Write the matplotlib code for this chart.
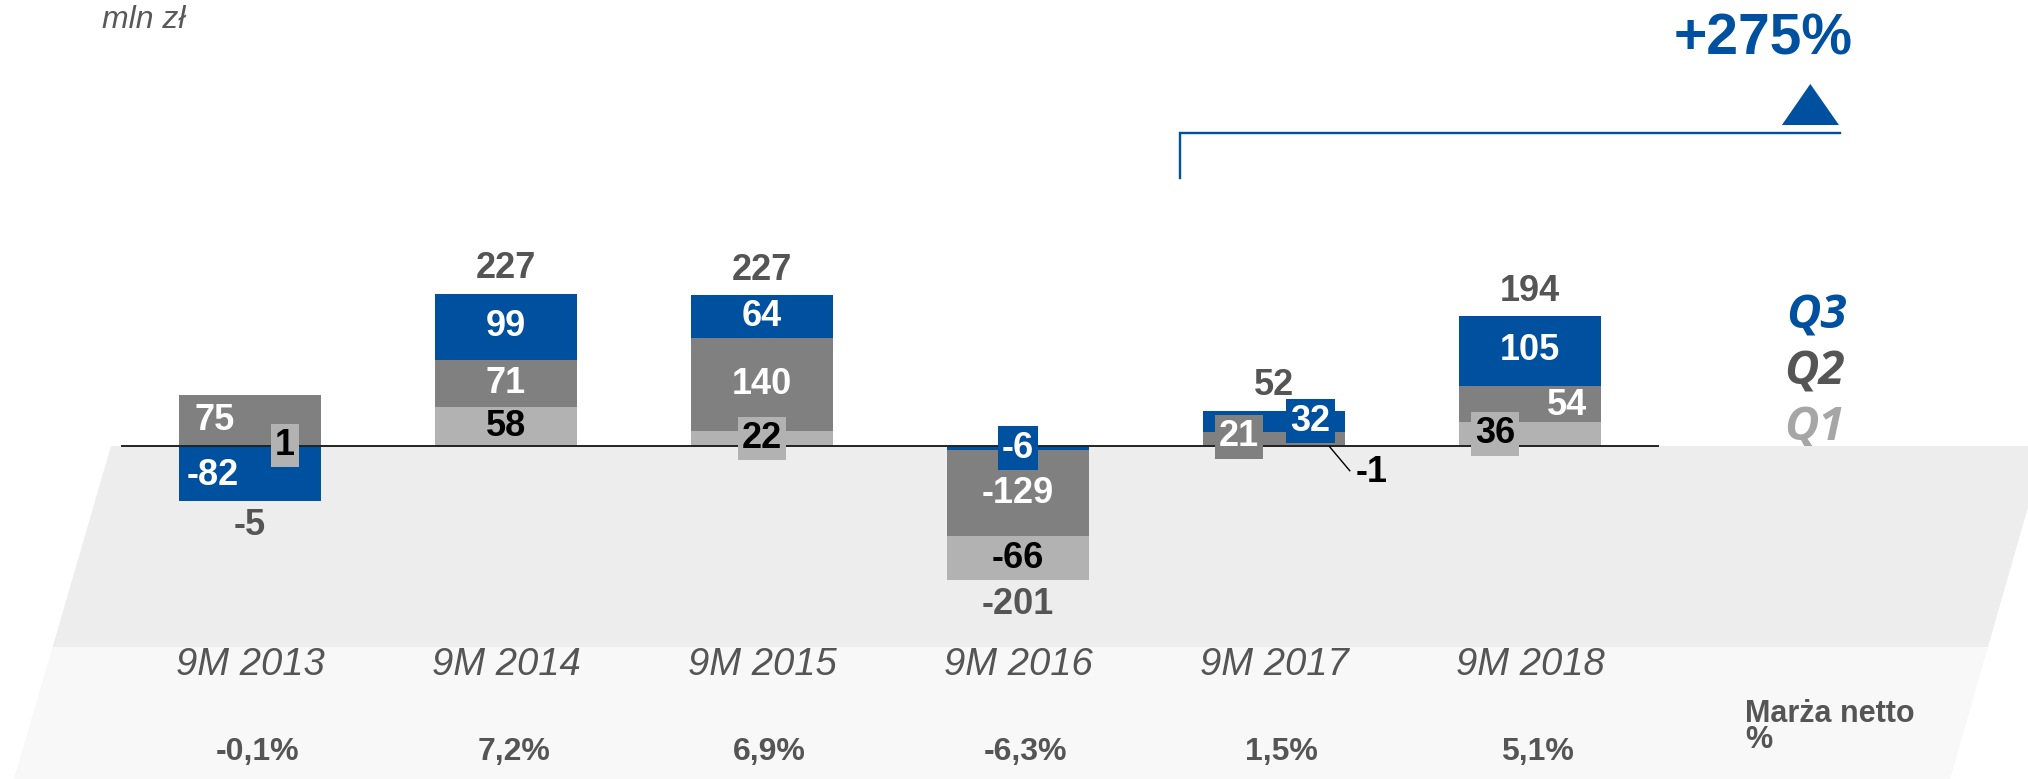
"""
Net profit by quarter (9M 2013 - 9M 2018), stacked Q1/Q2/Q3 bars
"""
import matplotlib
matplotlib.use('Agg')
import matplotlib.pyplot as plt

# --- data -----------------------------------------------------------------
years = ['9M 2013', '9M 2014', '9M 2015', '9M 2016', '9M 2017', '9M 2018']
q1 = [1, 58, 22, -66, -1, 36]
q2 = [75, 71, 140, -129, 21, 54]
q3 = [-82, 99, 64, -6, 32, 105]
totals = [-5, 227, 227, -201, 52, 194]
margins = ['-0,1%', '7,2%', '6,9%', '-6,3%', '1,5%', '5,1%']
growth_label = '+275%'

# --- style ----------------------------------------------------------------
BLUE = '#0050A0'
DARK = '#808080'
LIGHT = '#B2B2B2'
TXT = '#555555'
FONT = 'Liberation Sans'
colors = {'q1': LIGHT, 'q2': DARK, 'q3': BLUE}
text_colors = {'q1': 'black', 'q2': 'white', 'q3': 'white'}

# labels that sit in a small box or are nudged sideways
boxed = {(0, 'q1'), (2, 'q1'), (3, 'q3'), (4, 'q2'), (4, 'q3'), (5, 'q1')}
nudge = {(0, 'q2'): (-0.137, 0), (0, 'q1'): (0.137, 0), (0, 'q3'): (-0.145, -3),
         (4, 'q2'): (-0.137, 3), (4, 'q3'): (0.143, 0),
         (5, 'q2'): (0.144, -3), (5, 'q1'): (-0.137, 0)}

bar_w = 0.555
plt.rcParams['font.family'] = FONT

fig = plt.figure(figsize=(20.28, 7.79), dpi=100)
ax = fig.add_axes([0, 0, 1, 1])
ax.set_xlim(-250 / 256, (2028 - 250) / 256)
ax.set_ylim(-333 / 0.668, 446 / 0.668)
ax.axis('off')

# background bands (perspective floor)
ax.fill([-0.543, 6.95, 6.95, 6.789, -0.771], [0, 0, -85.3, -300.9, -300.9],
        color='#EDEDED', zorder=1, lw=0)
ax.fill([-0.771, 6.789, 6.641, -0.922], [-300.9, -300.9, -498.5, -498.5],
        color='#F8F8F8', zorder=1, lw=0)

# stacked bars: positives build up Q1->Q3, negatives build down Q3->Q1
series = {'q1': q1, 'q2': q2, 'q3': q3}
mids = {'q1': {}, 'q2': {}, 'q3': {}}
for i in range(len(years)):
    pos, neg = 0, 0
    for key in ['q1', 'q2', 'q3']:
        v = series[key][i]
        if v >= 0:
            ax.bar(i, v, bar_w, bottom=pos, color=colors[key], zorder=2, lw=0)
            mids[key][i] = pos + v / 2
            pos += v
    for key in ['q3', 'q2', 'q1']:
        v = series[key][i]
        if v < 0:
            ax.bar(i, v, bar_w, bottom=neg, color=colors[key], zorder=2, lw=0)
            mids[key][i] = neg + v / 2
            neg += v

    # segment labels
    for key in ['q1', 'q2', 'q3']:
        v = series[key][i]
        if (i, key) == (4, 'q1'):
            continue
        dx, dy = nudge.get((i, key), (0, 0))
        kw = {}
        if (i, key) in boxed:
            kw['bbox'] = dict(boxstyle='square,pad=0.12', fc=colors[key], ec='none')
        ax.text(i + dx, mids[key][i] + dy, str(v), ha='center',
                va='center', fontsize=26, fontweight='bold',
                color=text_colors[key], zorder=5, **kw)

    # totals
    t = totals[i]
    if t >= 0:
        ax.text(i, pos + 37, str(t), ha='center', va='center', fontsize=26,
                fontweight='bold', color=TXT, zorder=5)
    else:
        ax.text(i, neg - 37, str(t), ha='center', va='center', fontsize=26,
                fontweight='bold', color=TXT, zorder=5)

    ax.text(i, -328, years[i], ha='center', va='center', fontsize=27.5,
            style='italic', color=TXT, zorder=5)
    ax.text(i + 0.03, -458, margins[i], ha='center', va='center', fontsize=23,
            fontweight='bold', color=TXT, zorder=5)

# tiny Q1 value of 9M 2017 with leader line
ax.plot([4 + 0.217, 4 + 0.296], [-1, -37], color='black', lw=1, zorder=5)
ax.text(4 + 0.32, -40, str(q1[4]), ha='left', va='center', fontsize=26,
        fontweight='bold', color='black', zorder=5)

# zero line
ax.plot([-0.5, 5.5], [0, 0], color='#222222', lw=1.4, zorder=3)

# legend
ax.text(6.12, 194, 'Q3', ha='center', va='center', fontsize=34, family='Open Sans',
        fontweight='bold', style='italic', color=BLUE, zorder=0.5)
ax.text(6.11, 111, 'Q2', ha='center', va='center', fontsize=34, family='Open Sans',
        fontweight='bold', style='italic', color=TXT, zorder=0.5)
ax.text(6.11, 27, 'Q1', ha='center', va='center', fontsize=34, family='Open Sans',
        fontweight='bold', style='italic', color='#A6A6A6', zorder=0.5)

# growth bracket
ax.plot([3.633, 3.633, 6.21], [401, 468.6, 468.6], color=BLUE, lw=1.7,
        solid_joinstyle='miter', zorder=5)
ax.fill([5.984, 6.207, 6.095], [480.5, 480.5, 542], color=BLUE, lw=0, zorder=5)
ax.text(6.26, 609, growth_label, ha='right', va='center', fontsize=41,
        fontweight='bold', color=BLUE, zorder=5)

# unit and margin caption
ax.text(-0.58, 638, 'mln zł', ha='left', va='center', fontsize=23,
        style='italic', color='#595959')
ax.text(5.84, -401, 'Marża netto', ha='left', va='center', fontsize=22,
        fontweight='bold', color=TXT, zorder=5)
ax.text(5.84, -440, '%', ha='left', va='center', fontsize=22,
        fontweight='bold', color=TXT, zorder=5)

fig.savefig('out.png', dpi=100)
